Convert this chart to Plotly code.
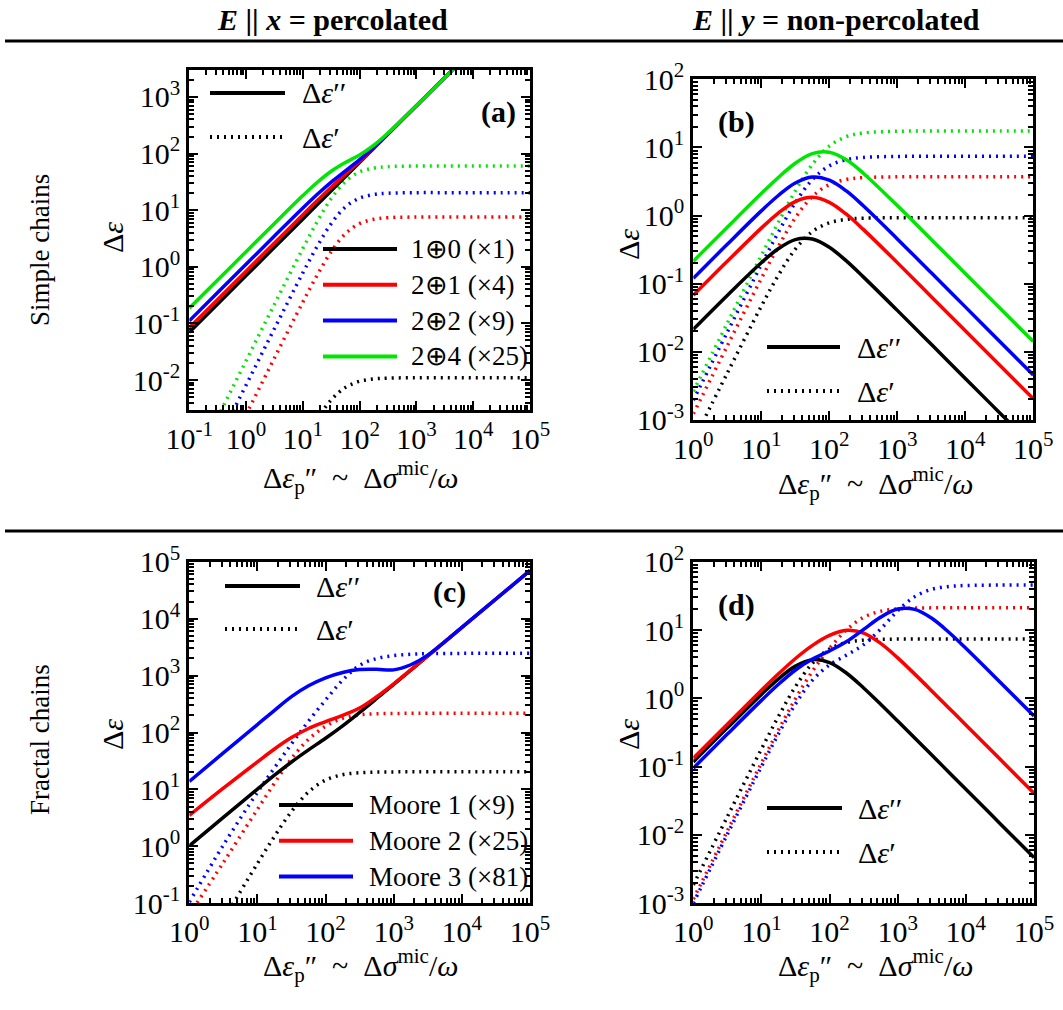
import plotly.graph_objects as go

W, H = 1063, 1010
FONT = "Liberation Serif, Times New Roman, serif"

# ---------------- data ----------------
# Panel (a): E || x, simple chains
A_X = [0.1, 0.316, 1, 3.16, 10, 17.8, 31.6, 56.2, 100, 178, 316, 1000, 3160, 10000, 31600, 100000]
A_BLACK = [0.07, 0.221, 0.7, 2.21, 7.0, 12.45, 22.1, 39.4, 70, 124.5, 221, 700, 2214, 7000, 22136, 70000]
A_RED = [0.0837, 0.265, 0.837, 2.64, 8.32, 14.65, 25.4, 43.2, 73.2, 126.7, 222.7, 700.4, 2214, 7000, 22136, 70000]
A_BLUE = [0.111, 0.350, 1.107, 3.50, 10.92, 18.88, 31.35, 49.5, 78.2, 129.8, 224.6, 701, 2214, 7000, 22136, 70000]
A_GREEN = [0.185, 0.584, 1.85, 5.83, 18.1, 30.8, 48.7, 69.5, 94.8, 140.9, 231.1, 703.2, 2215, 7000, 22136, 70000]
A_BLACK_D = [8e-8, 8e-7, 8e-6, 8e-5, 0.00073, 0.0020, 0.00445, 0.00741, 0.0095, 0.01045, 0.0108, 0.01095, 0.011, 0.011, 0.011, 0.011]
A_RED_D = [2.5e-5, 0.000245, 0.00245, 0.0245, 0.238, 0.705, 1.855, 3.84, 5.79, 6.91, 7.36, 7.56, 7.6, 7.6, 7.6, 7.6]
A_BLUE_D = [8e-5, 0.000813, 0.00813, 0.081, 0.782, 2.283, 5.81, 11.38, 16.33, 18.92, 19.92, 20.37, 20.4, 20.4, 20.4, 20.4]
A_GREEN_D = [0.00022, 0.00219, 0.0219, 0.218, 2.11, 6.21, 16.05, 32.2, 47.3, 55.4, 58.7, 60.1, 60.2, 60.2, 60.2, 60.2]

# Panel (b): E || y, simple chains
B_X = [1, 3.16, 10, 17.8, 31.6, 56.2, 100, 178, 316, 1000, 3160, 10000, 31600, 100000]
B_BLACK = [0.0214, 0.0673, 0.203, 0.326, 0.444, 0.452, 0.342, 0.216, 0.126, 0.0406, 0.0129, 0.00407, 0.00129, 0.00041]
B_RED = [0.0676, 0.213, 0.654, 1.089, 1.606, 1.858, 1.567, 1.047, 0.627, 0.204, 0.0646, 0.0204, 0.00646, 0.00204]
B_BLUE = [0.120, 0.379, 1.172, 1.973, 3.01, 3.69, 3.31, 2.30, 1.393, 0.455, 0.1445, 0.0457, 0.01445, 0.00457]
B_GREEN = [0.214, 0.675, 2.107, 3.63, 5.87, 8.13, 8.51, 6.58, 4.19, 1.403, 0.447, 0.1413, 0.0447, 0.01413]
B_BLACK_D = [0.00049, 0.00488, 0.0466, 0.133, 0.321, 0.582, 0.783, 0.880, 0.916, 0.931, 0.933, 0.933, 0.933, 0.933]
B_RED_D = [0.00123, 0.01227, 0.119, 0.352, 0.925, 1.901, 2.851, 3.388, 3.606, 3.707, 3.715, 3.715, 3.715, 3.715]
B_BLUE_D = [0.00195, 0.01945, 0.190, 0.569, 1.545, 3.365, 5.37, 6.62, 7.14, 7.38, 7.41, 7.41, 7.41, 7.41]
B_GREEN_D = [0.00263, 0.02625, 0.259, 0.794, 2.286, 5.62, 10.47, 14.39, 16.29, 17.26, 17.38, 17.38, 17.38, 17.38]

# Panel (c): E || x, fractal chains
C_X = [1, 3.16, 10, 17.8, 31.6, 56.2, 100, 178, 316, 562, 1000, 1778, 3162, 10000, 31623, 100000]
C_BLACK = [1.02, 3.23, 10.15, 17.8, 30.3, 49.5, 79.2, 130.9, 225.3, 396, 701, 1246, 2214, 7000, 22136, 70000]
C_RED = [3.5, 10.5, 30.5, 51.3, 81.3, 117.5, 155, 200, 270, 425, 717, 1255, 2220, 7000, 22140, 70000]
C_BLUE = [13.8, 43.8, 138, 245, 427, 661, 912, 1135, 1274, 1288, 1259, 1550, 2290, 7050, 22160, 70000]
C_BLACK_D = [0.0051, 0.051, 0.50, 1.50, 4.10, 9.04, 14.6, 18.15, 19.65, 20.18, 20.33, 20.38, 20.4, 20.4, 20.4, 20.4]
C_RED_D = [0.063, 0.52, 4.47, 12.9, 34.7, 76, 129, 178, 204, 214, 216, 217.5, 218, 218, 218, 218]
C_BLUE_D = [0.105, 1.05, 8.9, 24, 63, 158, 372, 832, 1514, 1995, 2240, 2371, 2427, 2455, 2455, 2455]

# Panel (d): E || y, fractal chains
D_X = [1, 3.16, 10, 17.8, 31.6, 56.2, 100, 178, 316, 562, 1000, 1778, 3162, 5623, 10000, 31623, 100000]
D_BLACK = [0.1173, 0.370, 1.144, 1.932, 2.964, 3.676, 3.340, 2.332, 1.420, 0.820, 0.465, 0.2623, 0.1476, 0.0830, 0.0467, 0.01476, 0.00467]
D_RED = [0.1327, 0.4192, 1.313, 2.287, 3.835, 5.967, 8.339, 9.894, 9.019, 6.378, 3.909, 2.263, 1.2855, 0.7247, 0.4078, 0.129, 0.0408]
D_BLUE = [0.0950, 0.2998, 0.934, 1.606, 2.600, 3.758, 4.943, 6.772, 10.20, 15.46, 20.28, 20.04, 14.86, 9.289, 5.416, 1.739, 0.5508]
D_BLACK_D = [0.00186, 0.01853, 0.1814, 0.5443, 1.486, 3.276, 5.293, 6.573, 7.117, 7.308, 7.371, 7.391, 7.397, 7.4, 7.4, 7.4, 7.4]
D_RED_D = [0.00115, 0.01151, 0.1133, 0.3457, 0.992, 2.506, 5.413, 10.11, 15.38, 18.86, 20.39, 20.94, 21.12, 21.17, 21.19, 21.2, 21.2]
D_BLUE_D = [0.001, 0.01025, 0.1004, 0.3018, 0.827, 1.846, 3.099, 4.297, 6.110, 10.36, 19.18, 30.85, 39.44, 43.43, 44.89, 45.53, 45.6]

SIMPLE_LABELS = ["1⊕0 (×1)", "2⊕1 (×4)", "2⊕2 (×9)", "2⊕4 (×25)"]
FRACTAL_LABELS = ["Moore 1 (×9)", "Moore 2 (×25)", "Moore 3 (×81)"]
HEADERS = ["<i>E</i> || <i>x</i> = percolated", "<i>E</i> || <i>y</i> = non-percolated"]
ROW_LABELS = ["Simple chains", "Fractal chains"]
PANEL_LABELS = ["(a)", "(b)", "(c)", "(d)"]

A_XTICKS = [-1, 0, 1, 2, 3, 4, 5]
A_YTICKS = [-2, -1, 0, 1, 2, 3]
B_XTICKS = [0, 1, 2, 3, 4, 5]
B_YTICKS = [-3, -2, -1, 0, 1, 2]
C_YTICKS = [-1, 0, 1, 2, 3, 4, 5]

BLACK, RED, BLUE, GREEN = "#000000", "#ff0000", "#0000ff", "#00e600"

# ---------------- figure ----------------
fig = go.Figure()


def px(x):
    return x / W


def py(y):
    return 1 - y / H


def add(xs, ys, color, dotted, n):
    fig.add_trace(go.Scatter(
        x=xs, y=ys, mode="lines",
        line=dict(color=color, width=3.5,
                  dash="2px,5px" if dotted else "solid",
                  shape="spline", smoothing=1.0),
        xaxis="x" + n, yaxis="y" + n, showlegend=False, hoverinfo="skip"))


for ys, c in [(A_BLACK_D, BLACK), (A_RED_D, RED), (A_BLUE_D, BLUE), (A_GREEN_D, GREEN)]:
    add(A_X, ys, c, True, "")
for ys, c in [(A_BLACK, BLACK), (A_RED, RED), (A_BLUE, BLUE), (A_GREEN, GREEN)]:
    add(A_X, ys, c, False, "")
for ys, c in [(B_BLACK_D, BLACK), (B_RED_D, RED), (B_BLUE_D, BLUE), (B_GREEN_D, GREEN)]:
    add(B_X, ys, c, True, "2")
for ys, c in [(B_BLACK, BLACK), (B_RED, RED), (B_BLUE, BLUE), (B_GREEN, GREEN)]:
    add(B_X, ys, c, False, "2")
for ys, c in [(C_BLACK_D, BLACK), (C_RED_D, RED), (C_BLUE_D, BLUE)]:
    add(C_X, ys, c, True, "3")
for ys, c in [(C_BLACK, BLACK), (C_RED, RED), (C_BLUE, BLUE)]:
    add(C_X, ys, c, False, "3")
for ys, c in [(D_BLACK_D, BLACK), (D_RED_D, RED), (D_BLUE_D, BLUE)]:
    add(D_X, ys, c, True, "4")
for ys, c in [(D_BLACK, BLACK), (D_RED, RED), (D_BLUE, BLUE)]:
    add(D_X, ys, c, False, "4")


def tickset(exps):
    return [10.0 ** e for e in exps], ["10<sup>%d</sup>" % e for e in exps]


def axis(rng, dom, exps, anchor):
    tv, tt = tickset(exps)
    return dict(type="log", range=rng, domain=dom, anchor=anchor, automargin=False,
                showline=True, linecolor="black", linewidth=3, mirror="allticks",
                ticks="inside", ticklen=9, tickwidth=2, tickcolor="black",
                tickvals=tv, ticktext=tt, showgrid=False, zeroline=False,
                tickfont=dict(family=FONT, size=30, color="black"),
                minor=dict(ticks="inside", ticklen=5, tickwidth=1.5, tickcolor="black",
                           dtick="D1", showgrid=False))


BOX = {
    "": (189.3, 530.0, 70.0, 410.0),
    "2": (693.3, 1033.3, 79.3, 420.0),
    "3": (189.3, 530.0, 561.7, 903.3),
    "4": (693.3, 1034.0, 561.7, 903.3),
}


def dom(n):
    x0, x1, y0, y1 = BOX[n]
    return [px(x0), px(x1)], [py(y1), py(y0)]


dxa, dya = dom("")
dxb, dyb = dom("2")
dxc, dyc = dom("3")
dxd, dyd = dom("4")

fig.update_layout(
    width=W, height=H,
    margin=dict(l=0, r=0, t=0, b=0, pad=0, autoexpand=False),
    paper_bgcolor="white", plot_bgcolor="white",
    font=dict(family=FONT, color="black"),
    xaxis=axis([-1, 5], dxa, A_XTICKS, "y"),
    yaxis=axis([-2.53, 3.476], dya, A_YTICKS, "x"),
    xaxis2=axis([0, 5], dxb, B_XTICKS, "y2"),
    yaxis2=axis([-3.0005, 2.0005], dyb, B_YTICKS, "x2"),
    xaxis3=axis([0, 5], dxc, B_XTICKS, "y3"),
    yaxis3=axis([-1.0005, 5.0005], dyc, C_YTICKS, "x3"),
    xaxis4=axis([0, 5], dxd, B_XTICKS, "y4"),
    yaxis4=axis([-3.0005, 2.0005], dyd, B_YTICKS, "x4"),
)

ann = []
shapes = []


def text(x, y, s, size=27, angle=0, xanchor="center"):
    ann.append(dict(x=px(x), y=py(y), xref="paper", yref="paper", text=s, showarrow=False,
                    textangle=angle, xanchor=xanchor, yanchor="middle", borderpad=0,
                    font=dict(family=FONT, size=size, color="black")))


def hline(x0, x1, y, color="black", width=4, dotted=False):
    shapes.append(dict(type="line", xref="paper", yref="paper", x0=px(x0), x1=px(x1),
                       y0=py(y), y1=py(y),
                       line=dict(color=color, width=width, dash="2px,5px" if dotted else "solid")))


# headers and separators
text(332, 19, "<b>" + HEADERS[0] + "</b>", size=30)
text(836, 19, "<b>" + HEADERS[1] + "</b>", size=30)
hline(5, 1063, 41, width=3)
hline(5, 1063, 531, width=3)

# row labels
text(40, 250, ROW_LABELS[0], size=27, angle=-90)
text(40, 740, ROW_LABELS[1], size=27, angle=-90)

# axis titles
XT = "Δ<i>ε</i><sub>p</sub>″  ~  Δ<i>σ</i><sup>mic</sup>/<i>ω</i>"
YT = "Δ<i>ε</i>"
text(360, 477, XT, size=30)
text(875, 483, XT, size=30)
text(360, 965, XT, size=30)
text(875, 965, XT, size=30)
text(112, 238, YT, size=30, angle=-90)
text(628, 245, YT, size=30, angle=-90)
text(112, 735, YT, size=30, angle=-90)
text(628, 735, YT, size=30, angle=-90)

# panel labels
text(498, 112, "<b>" + PANEL_LABELS[0] + "</b>", size=30)
text(736, 122, "<b>" + PANEL_LABELS[1] + "</b>", size=30)
text(449, 592, "<b>" + PANEL_LABELS[2] + "</b>", size=30)
text(736, 605, "<b>" + PANEL_LABELS[3] + "</b>", size=30)

EPP = "Δ<i>ε</i>′′"
EP = "Δ<i>ε</i>′"
# legend (a)
hline(210, 285, 93)
hline(210, 285, 137, dotted=True)
text(301, 93, EPP, size=30, xanchor="left")
text(301, 137, EP, size=30, xanchor="left")
for i, (lab, c) in enumerate(zip(SIMPLE_LABELS, [BLACK, RED, BLUE, GREEN])):
    y = 249 + i * 35.8
    hline(323, 397, y, color=c)
    text(410, y, lab, size=27, xanchor="left")
# legend (b)
hline(767, 840, 347)
hline(767, 840, 391, dotted=True)
text(856, 347, EPP, size=30, xanchor="left")
text(856, 391, EP, size=30, xanchor="left")
# legend (c)
hline(225, 300, 586)
hline(225, 300, 629, dotted=True)
text(315, 586, EPP, size=30, xanchor="left")
text(315, 629, EP, size=30, xanchor="left")
for i, (lab, c) in enumerate(zip(FRACTAL_LABELS, [BLACK, RED, BLUE])):
    y = 805 + i * 35.8
    hline(279, 353, y, color=c)
    text(368, y, lab, size=27, xanchor="left")
# legend (d)
hline(767, 842, 808)
hline(767, 842, 852, dotted=True)
text(857, 808, EPP, size=30, xanchor="left")
text(857, 852, EP, size=30, xanchor="left")

fig.update_layout(annotations=ann, shapes=shapes)
fig.write_html("out.html")
